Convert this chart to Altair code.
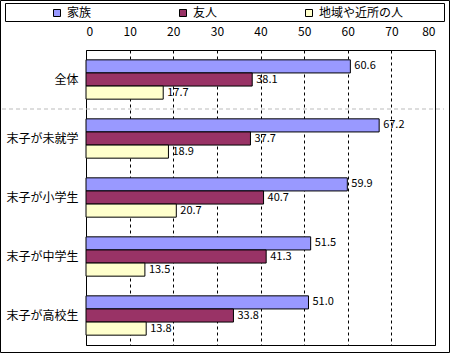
import altair as alt
import pandas as pd

categories = ["全体", "末子が未就学", "末子が小学生", "末子が中学生", "末子が高校生"]
series = ["家族", "友人", "地域や近所の人"]
family = [60.6, 67.2, 59.9, 51.5, 51.0]
friends = [38.1, 37.7, 40.7, 41.3, 33.8]
neighbors = [17.7, 18.9, 20.7, 13.5, 13.8]
x_ticks = [0, 10, 20, 30, 40, 50, 60, 70, 80]
colors = ["#9999FF", "#993366", "#FFFFCC"]

rows = []
for i, c in enumerate(categories):
    for s, vals in zip(series, [family, friends, neighbors]):
        rows.append({"cat": c, "series": s, "value": vals[i]})
df = pd.DataFrame(rows)

FONT = "Noto Sans CJK JP"
W, H = 349, 295

y_enc = alt.Y("cat:N", sort=categories, title=None,
              scale=alt.Scale(domain=categories, paddingInner=0, paddingOuter=0),
              axis=alt.Axis(domain=False, ticks=False, labelPadding=8, labelFontSize=12,
                            labelFont=FONT, labelColor="black"))
yoff = alt.YOffset("series:N", sort=series,
                   scale=alt.Scale(domain=series, paddingInner=0, paddingOuter=0.75))
x_enc = alt.X("value:Q", title=None,
              scale=alt.Scale(domain=[0, 80], nice=False),
              axis=alt.Axis(orient="top", values=x_ticks, ticks=False, domain=False,
                            grid=True, gridColor="black", gridDash=[3, 3], gridWidth=1,
                            gridOpacity=1, labelPadding=12, labelFontSize=12, labelFont=FONT,
                            labelColor="black"))

bars = alt.Chart(df).mark_bar(stroke="black", strokeWidth=1).encode(
    x=x_enc,
    y=y_enc,
    yOffset=yoff,
    color=alt.Color("series:N", sort=series,
                    scale=alt.Scale(domain=series, range=colors),
                    legend=alt.Legend(title=None, orient="none", legendX=-35, legendY=-43,
                                      direction="horizontal", columns=3, columnPadding=85,
                                      gridAlign="none",
                                      symbolType="square", symbolSize=49,
                                      symbolStrokeColor="black", symbolStrokeWidth=1,
                                      labelFontSize=12, labelFont=FONT, labelOffset=4,
                                      labelColor="black")),
)

labels = alt.Chart(df).mark_text(align="left", baseline="middle", dx=4, fontSize=11,
                                 font=FONT, color="black").encode(
    x=alt.X("value:Q"),
    y=alt.Y("cat:N", sort=categories),
    yOffset=alt.YOffset("series:N", sort=series),
    text=alt.Text("value:Q", format=".1f"),
)

sep = alt.Chart(alt.Data(values=[{"cat": "全体"}])).mark_rule(
    color="#BBBBBB", strokeDash=[4, 3], strokeWidth=1).encode(
    y=alt.Y("cat:N", sort=categories, bandPosition=1),
    x=alt.value(-84), x2=alt.value(358),
)

legend_box = alt.Chart(alt.Data(values=[{"k": 1}])).mark_rect(
    fill=None, stroke="black", strokeWidth=1).encode(
    x=alt.value(-80.5), x2=alt.value(358.5), y=alt.value(-46.5), y2=alt.value(-28.5))

outer_box = alt.Chart(alt.Data(values=[{"k": 1}])).mark_rect(
    fill=None, stroke="black", strokeWidth=1).encode(
    x=alt.value(-85.5), x2=alt.value(363.5), y=alt.value(-49.5), y2=alt.value(302.5))

chart = alt.layer(bars, labels, sep, legend_box, outer_box).properties(
    width=W, height=H,
    autosize=alt.AutoSizeParams(type="none"),
    padding={"left": 86, "top": 50, "right": 15, "bottom": 8},
    background="white",
).configure_view(stroke="black", strokeWidth=1)

chart.save("out.html", embed_options={"renderer": "svg", "actions": False})
